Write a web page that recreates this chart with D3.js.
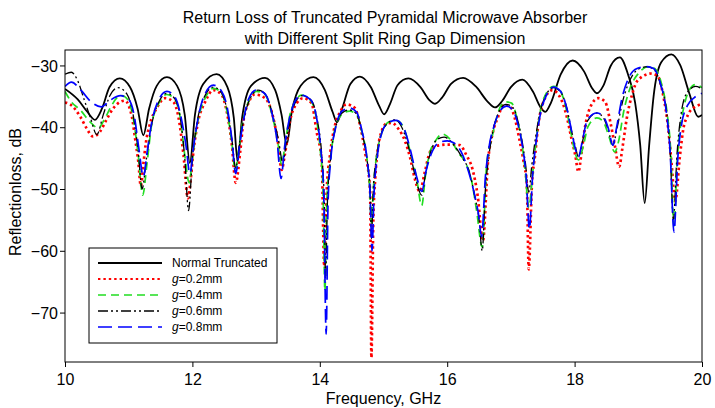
<!DOCTYPE html>
<html>
<head>
<meta charset="utf-8">
<script src="https://cdn.jsdelivr.net/npm/d3@7"></script>
<style>
  body { margin: 0; background: #fff; }
  svg { display: block; font-family: "Liberation Sans", Arial, sans-serif; }
</style>
</head>
<body>
<div id="chart"></div>
<script>
// Return loss curves, [frequency GHz, dB]

const normalTruncated = [
  [10.00,-33.8],[10.20,-35.5],[10.35,-37.5],[10.47,-38.8],[10.58,-37.0],[10.70,-33.5],[10.86,-32.1],
  [11.02,-33.5],[11.14,-37.0],[11.23,-41.3],[11.32,-37.0],[11.44,-33.3],[11.60,-31.9],[11.76,-33.3],
  [11.88,-38.0],[11.96,-45.8],[12.04,-38.0],[12.17,-33.0],[12.38,-31.4],[12.55,-33.5],[12.65,-38.5],
  [12.71,-45.5],[12.78,-38.5],[12.92,-33.3],[13.14,-32.0],[13.30,-34.0],[13.40,-38.0],[13.48,-42.8],
  [13.56,-37.5],[13.70,-33.3],[13.90,-31.9],[14.08,-34.0],[14.20,-37.5],[14.27,-39.2],[14.35,-37.0],
  [14.48,-33.0],[14.63,-31.8],[14.80,-33.5],[14.93,-36.5],[15.01,-37.9],[15.10,-36.3],[15.22,-33.2],
  [15.39,-32.1],[15.58,-33.5],[15.72,-35.6],[15.81,-36.2],[15.92,-35.2],[16.06,-33.0],[16.25,-32.0],
  [16.45,-33.4],[16.63,-35.8],[16.75,-36.8],[16.86,-35.8],[17.00,-33.5],[17.18,-32.3],[17.35,-34.3],
  [17.46,-36.7],[17.54,-37.5],[17.63,-36.0],[17.78,-31.5],[17.97,-29.2],[18.15,-31.0],[18.27,-33.6],
  [18.35,-34.5],[18.45,-33.3],[18.57,-30.0],[18.71,-28.7],[18.84,-31.5],[18.95,-36.0],[19.03,-42.9],
  [19.10,-52.3],[19.17,-43.0],[19.24,-35.0],[19.36,-29.5],[19.52,-28.2],[19.66,-30.0],[19.80,-34.5],
  [19.94,-38.3],[20.00,-38.0]
];

const gap02 = [
  [10.00,-36.0],[10.08,-36.3],[10.24,-38.3],[10.34,-40.2],[10.44,-41.5],[10.55,-40.7],[10.65,-38.8],
  [10.76,-36.9],[10.94,-35.7],[11.05,-38.3],[11.10,-41.8],[11.15,-45.5],[11.19,-49.5],[11.23,-46.0],
  [11.27,-42.5],[11.33,-39.6],[11.44,-36.9],[11.57,-35.3],[11.70,-35.9],[11.78,-38.3],[11.86,-44.5],
  [11.93,-51.5],[11.97,-48.8],[12.01,-44.5],[12.09,-39.1],[12.20,-35.9],[12.33,-34.0],[12.46,-34.8],
  [12.54,-37.5],[12.62,-42.9],[12.68,-49.0],[12.75,-44.0],[12.80,-39.1],[12.88,-36.1],[12.98,-34.7],
  [13.14,-35.3],[13.27,-38.5],[13.35,-42.9],[13.40,-46.9],[13.45,-44.5],[13.53,-39.1],[13.64,-36.1],
  [13.74,-35.3],[13.87,-36.1],[13.95,-40.7],[14.03,-45.6],[14.07,-62.5],[14.11,-50.0],[14.16,-44.5],
  [14.24,-39.6],[14.32,-37.5],[14.42,-36.3],[14.55,-36.9],[14.63,-39.6],[14.71,-44.0],[14.79,-50.4],
  [14.81,-77.3],[14.84,-55.0],[14.87,-48.3],[14.92,-42.9],[14.97,-40.7],[15.05,-39.4],[15.13,-39.3],
  [15.23,-40.2],[15.34,-42.3],[15.42,-45.0],[15.49,-48.3],[15.57,-50.4],[15.65,-47.2],[15.73,-44.0],
  [15.84,-43.0],[16.02,-42.8],[16.20,-42.9],[16.30,-44.5],[16.40,-46.9],[16.48,-51.2],[16.56,-58.4],
  [16.64,-45.6],[16.72,-40.7],[16.80,-38.3],[16.88,-36.4],[16.99,-36.7],[17.06,-38.5],[17.14,-42.3],
  [17.20,-45.6],[17.25,-49.3],[17.28,-63.0],[17.33,-49.3],[17.38,-44.5],[17.43,-39.6],[17.51,-35.9],
  [17.65,-34.0],[17.78,-35.3],[17.88,-38.4],[17.95,-41.8],[18.01,-44.5],[18.06,-47.2],[18.11,-44.0],
  [18.16,-40.2],[18.24,-36.9],[18.37,-35.3],[18.48,-35.9],[18.56,-39.1],[18.63,-42.9],[18.70,-46.4],
  [18.75,-43.4],[18.82,-38.5],[18.90,-34.8],[19.00,-32.3],[19.21,-31.3],[19.31,-31.8],[19.39,-34.8],
  [19.47,-40.2],[19.52,-45.6],[19.58,-52.0],[19.65,-45.0],[19.70,-40.7],[19.78,-38.0],[19.89,-36.7],
  [20.00,-36.3]
];

const gap04 = [
  [10.00,-34.2],[10.10,-35.9],[10.24,-37.2],[10.39,-39.1],[10.52,-40.1],[10.63,-38.5],[10.71,-36.9],
  [10.81,-35.3],[10.89,-34.9],[10.99,-35.6],[11.07,-38.5],[11.15,-44.5],[11.22,-51.0],[11.29,-45.6],
  [11.36,-39.6],[11.46,-36.4],[11.60,-34.7],[11.73,-35.6],[11.81,-38.5],[11.88,-44.5],[11.95,-49.0],
  [11.99,-46.1],[12.04,-41.8],[12.12,-37.5],[12.20,-35.3],[12.33,-33.7],[12.46,-34.5],[12.54,-37.3],
  [12.62,-42.6],[12.67,-46.9],[12.73,-43.4],[12.79,-39.1],[12.88,-35.9],[13.01,-34.2],[13.14,-34.7],
  [13.25,-38.0],[13.34,-42.3],[13.40,-46.0],[13.46,-42.3],[13.53,-38.0],[13.61,-35.9],[13.71,-34.8],
  [13.85,-35.6],[13.95,-38.8],[14.01,-44.0],[14.05,-50.0],[14.08,-66.5],[14.11,-52.0],[14.16,-45.8],
  [14.24,-40.2],[14.34,-38.0],[14.47,-37.4],[14.58,-38.0],[14.66,-40.7],[14.74,-45.0],[14.78,-49.3],
  [14.81,-55.5],[14.84,-50.0],[14.88,-45.5],[14.93,-42.5],[15.00,-40.2],[15.10,-39.1],[15.22,-39.0],
  [15.34,-40.7],[15.42,-44.0],[15.52,-48.3],[15.60,-52.7],[15.66,-47.7],[15.73,-44.0],[15.81,-42.3],
  [15.92,-41.1],[16.05,-42.0],[16.18,-44.2],[16.28,-45.6],[16.38,-48.5],[16.46,-53.4],[16.55,-59.4],
  [16.62,-46.0],[16.70,-41.8],[16.78,-38.3],[16.85,-36.4],[16.93,-35.9],[17.01,-36.1],[17.09,-38.3],
  [17.16,-41.8],[17.22,-46.6],[17.28,-53.0],[17.35,-46.6],[17.40,-41.8],[17.46,-37.5],[17.54,-34.8],
  [17.67,-33.4],[17.77,-34.0],[17.86,-36.7],[17.92,-39.6],[17.98,-42.9],[18.06,-45.3],[18.14,-42.9],
  [18.21,-39.9],[18.35,-38.5],[18.45,-39.1],[18.53,-41.2],[18.63,-44.0],[18.69,-42.3],[18.77,-37.5],
  [18.87,-33.7],[19.00,-31.3],[19.16,-30.2],[19.26,-30.5],[19.37,-33.2],[19.45,-37.5],[19.51,-44.0],
  [19.56,-56.0],[19.61,-45.5],[19.66,-40.0],[19.72,-36.5],[19.80,-34.0],[19.90,-33.1],[20.00,-33.6]
];

const gap06 = [
  [10.00,-31.4],[10.10,-31.1],[10.20,-32.5],[10.30,-35.5],[10.40,-38.5],[10.50,-41.2],[10.60,-38.0],
  [10.70,-35.0],[10.83,-33.6],[10.97,-34.6],[11.07,-38.0],[11.15,-44.0],[11.21,-50.0],[11.28,-45.0],
  [11.36,-39.6],[11.46,-36.2],[11.60,-34.5],[11.73,-35.5],[11.81,-38.5],[11.88,-45.0],[11.94,-53.5],
  [12.00,-45.0],[12.06,-40.0],[12.15,-36.0],[12.33,-33.5],[12.46,-34.5],[12.55,-37.5],[12.62,-42.0],
  [12.68,-46.6],[12.74,-42.5],[12.81,-38.5],[12.90,-35.5],[13.03,-34.0],[13.15,-34.7],[13.26,-38.0],
  [13.35,-42.0],[13.42,-45.7],[13.48,-42.0],[13.55,-38.0],[13.63,-35.7],[13.72,-34.9],[13.86,-35.6],
  [13.96,-38.8],[14.03,-44.5],[14.07,-52.0],[14.09,-64.5],[14.12,-52.0],[14.17,-45.0],[14.25,-40.0],
  [14.35,-37.7],[14.46,-37.2],[14.58,-37.9],[14.66,-40.8],[14.74,-45.2],[14.79,-50.0],[14.81,-58.0],
  [14.84,-50.0],[14.89,-45.0],[14.95,-41.5],[15.05,-39.5],[15.18,-38.8],[15.30,-40.3],[15.42,-44.3],
  [15.51,-48.5],[15.60,-51.0],[15.66,-47.5],[15.74,-44.0],[15.84,-42.0],[15.95,-41.6],[16.10,-42.8],
  [16.24,-45.0],[16.34,-47.0],[16.43,-51.0],[16.50,-55.0],[16.55,-60.0],[16.60,-50.0],[16.65,-45.0],
  [16.72,-40.5],[16.80,-37.8],[16.92,-36.3],[17.03,-36.8],[17.11,-39.0],[17.18,-42.5],[17.23,-46.0],
  [17.28,-50.5],[17.33,-46.0],[17.39,-41.5],[17.46,-37.5],[17.55,-34.8],[17.67,-33.6],[17.78,-34.3],
  [17.88,-37.0],[17.95,-40.5],[18.01,-43.0],[18.06,-44.8],[18.12,-42.5],[18.20,-39.0],[18.35,-37.7],
  [18.46,-38.6],[18.53,-40.5],[18.60,-42.9],[18.67,-40.0],[18.75,-36.0],[18.85,-32.8],[19.00,-30.6],
  [19.14,-30.2],[19.25,-30.7],[19.36,-33.5],[19.45,-38.0],[19.50,-44.0],[19.55,-55.0],[19.61,-44.0],
  [19.67,-38.0],[19.76,-34.5],[19.90,-33.4],[20.00,-33.8]
];

const gap08 = [
  [10.00,-33.4],[10.10,-32.7],[10.25,-34.0],[10.40,-35.8],[10.57,-36.7],[10.70,-35.7],[10.87,-34.9],
  [11.00,-35.5],[11.09,-38.3],[11.16,-43.5],[11.23,-48.0],[11.29,-44.0],[11.36,-39.3],[11.46,-35.8],
  [11.60,-34.2],[11.73,-35.2],[11.82,-38.3],[11.90,-43.0],[11.96,-47.5],[12.02,-43.0],[12.09,-38.5],
  [12.18,-35.0],[12.33,-33.2],[12.46,-34.2],[12.55,-37.0],[12.62,-42.0],[12.68,-47.5],[12.74,-43.0],
  [12.80,-39.0],[12.88,-35.5],[13.00,-34.0],[13.13,-34.5],[13.25,-37.8],[13.33,-42.3],[13.39,-48.3],
  [13.45,-43.0],[13.53,-38.3],[13.62,-35.6],[13.71,-34.8],[13.85,-35.5],[13.95,-38.5],[14.02,-44.0],
  [14.06,-50.0],[14.10,-73.5],[14.13,-52.0],[14.17,-45.5],[14.25,-40.0],[14.36,-37.3],[14.47,-36.9],
  [14.58,-37.6],[14.66,-40.5],[14.74,-45.0],[14.79,-51.0],[14.82,-60.0],[14.85,-51.0],[14.90,-45.0],
  [14.97,-41.0],[15.07,-39.3],[15.20,-38.9],[15.32,-40.2],[15.43,-44.0],[15.52,-48.0],[15.60,-50.4],
  [15.67,-47.0],[15.75,-44.3],[15.87,-42.5],[16.00,-42.2],[16.10,-42.5],[16.22,-44.0],[16.33,-47.0],
  [16.42,-50.5],[16.49,-54.0],[16.54,-57.7],[16.60,-48.0],[16.66,-43.0],[16.73,-40.0],[16.82,-37.5],
  [16.93,-36.6],[17.03,-37.2],[17.11,-39.5],[17.18,-43.0],[17.24,-48.0],[17.29,-56.5],[17.34,-48.0],
  [17.40,-42.0],[17.47,-37.5],[17.55,-35.0],[17.67,-33.5],[17.78,-34.2],[17.88,-37.0],[17.96,-41.0],
  [18.02,-43.8],[18.06,-44.8],[18.12,-42.3],[18.20,-38.8],[18.35,-37.7],[18.46,-38.4],[18.53,-40.2],
  [18.60,-42.9],[18.66,-40.0],[18.74,-35.5],[18.84,-32.2],[18.98,-30.5],[19.13,-30.2],[19.24,-30.5],
  [19.35,-33.0],[19.44,-37.5],[19.50,-44.0],[19.56,-57.0],[19.62,-45.0],[19.68,-39.5],[19.77,-36.5],
  [19.88,-35.2],[20.00,-34.5]
];

const xTicks = [10, 12, 14, 16, 18, 20];
const yTicks = [-30, -40, -50, -60, -70];

const titleLines = [
  "Return Loss of Truncated Pyramidal Microwave Absorber",
  "with Different Split Ring Gap Dimension"
];

// series styling + legend labels
const series = [
  {data: normalTruncated, label: "Normal Truncated", italic: false, color: "#000", width: 1.8, dash: null},
  {data: gap02, label: "=0.2mm", italic: true, color: "#ff0000", width: 2.7, dash: "2.4,3"},
  {data: gap04, label: "=0.4mm", italic: true, color: "#22dd22", width: 1.7, dash: "8,5"},
  {data: gap06, label: "=0.6mm", italic: true, color: "#000", width: 1.3, dash: "10,3,2,3,2,3"},
  {data: gap08, label: "=0.8mm", italic: true, color: "#0000ff", width: 1.7, dash: "14,6"}
];

const width = 715, height = 408;
const margin = {top: 50, right: 13, bottom: 46, left: 65};

const svg = d3.select("#chart")
  .append("svg")
  .attr("width", width)
  .attr("height", height);

const x = d3.scaleLinear().domain([10, 20]).range([margin.left, width - margin.right]);
const y = d3.scaleLinear().domain([-78, -27.5]).range([height - margin.bottom, margin.top]);

// title
svg.append("g")
  .selectAll("text")
  .data(titleLines)
  .join("text")
  .attr("x", 385)
  .attr("y", (d, i) => 23 + i * 21)
  .attr("text-anchor", "middle")
  .attr("font-size", "16px")
  .attr("fill", "#000")
  .text(d => d);

// clip for curves
svg.append("defs").append("clipPath").attr("id", "plot-clip")
  .append("rect")
  .attr("x", margin.left)
  .attr("y", margin.top)
  .attr("width", width - margin.left - margin.right)
  .attr("height", height - margin.top - margin.bottom);

const line = d3.line()
  .x(d => x(d[0]))
  .y(d => y(d[1]))
  .curve(d3.curveMonotoneX);

svg.append("g")
  .attr("clip-path", "url(#plot-clip)")
  .selectAll("path")
  .data(series)
  .join("path")
  .attr("d", d => line(d.data))
  .attr("fill", "none")
  .attr("stroke", d => d.color)
  .attr("stroke-width", d => d.width)
  .attr("stroke-dasharray", d => d.dash);

// axes
const xAxis = svg.append("g")
  .attr("transform", `translate(0,${height - margin.bottom})`)
  .call(d3.axisBottom(x).tickValues(xTicks).tickSize(5).tickSizeOuter(0));
const yAxis = svg.append("g")
  .attr("transform", `translate(${margin.left},0)`)
  .call(d3.axisLeft(y).tickValues(yTicks).tickSize(5).tickSizeOuter(0));

[xAxis, yAxis].forEach(a => {
  a.select(".domain").remove();
  a.selectAll("line").attr("stroke", "#000");
  a.selectAll("text")
    .attr("font-family", "Liberation Sans, Arial, sans-serif")
    .attr("font-size", "16px")
    .attr("fill", "#000");
});
xAxis.selectAll("text").attr("dy", "1em").attr("y", 7);
yAxis.selectAll("text").attr("x", -7).attr("dy", "0.36em");

// frame
svg.append("rect")
  .attr("x", margin.left)
  .attr("y", margin.top)
  .attr("width", width - margin.left - margin.right)
  .attr("height", height - margin.top - margin.bottom)
  .attr("fill", "none")
  .attr("stroke", "#000")
  .attr("stroke-width", 1);

// axis titles
svg.append("text")
  .attr("x", (margin.left + width - margin.right) / 2)
  .attr("y", 404)
  .attr("text-anchor", "middle")
  .attr("font-size", "16px")
  .text("Frequency, GHz");

svg.append("text")
  .attr("transform", "translate(21,192) rotate(-90)")
  .attr("text-anchor", "middle")
  .attr("font-size", "16px")
  .text("Reflectionloss, dB");

// legend
const legend = svg.append("g").attr("transform", "translate(89,248)");
legend.append("rect")
  .attr("width", 188)
  .attr("height", 95)
  .attr("fill", "#fff")
  .attr("stroke", "#000")
  .attr("stroke-width", 1);

const items = legend.selectAll("g.item")
  .data(series)
  .join("g")
  .attr("class", "item")
  .attr("transform", (d, i) => `translate(0,${15 + i * 16})`);

items.append("line")
  .attr("x1", 9).attr("x2", 73)
  .attr("stroke", d => d.color)
  .attr("stroke-width", d => Math.min(d.width, 2))
  .attr("stroke-dasharray", d => d.dash);

const labels = items.append("text")
  .attr("x", 83)
  .attr("dy", "0.35em")
  .attr("font-size", "12px");
labels.filter(d => d.italic).append("tspan").attr("font-style", "italic").text("g");
labels.append("tspan").text(d => d.label);
</script>
</body>
</html>
